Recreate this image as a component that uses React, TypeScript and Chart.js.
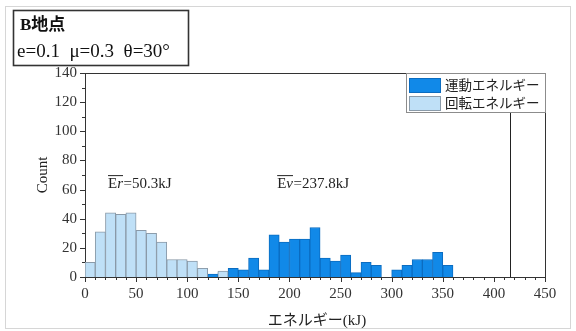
import { useEffect, useRef } from "react";
import { Chart, registerables } from "chart.js";

Chart.register(...registerables);

// Histogram bins are 10 kJ wide; each list holds the left edge of a bin and its count
const BIN_WIDTH = 10;
const rotationalBinStarts = [0, 10, 20, 30, 40, 50, 60, 70, 80, 90, 100, 110, 120, 130];
const rotationalCounts = [10, 31, 44, 43, 44, 32, 30, 24, 12, 12, 11, 6, 0, 4];
const kineticBinStarts = [
  120, 130, 140, 150, 160, 170, 180, 190, 200, 210, 220, 230, 240, 250, 260, 270, 280, 290, 300,
  310, 320, 330, 340, 350, 360,
];
const kineticCounts = [
  2, 3, 6, 5, 13, 5, 29, 24, 26, 26, 34, 13, 11, 15, 3, 10, 8, 0, 5, 8, 12, 12, 17, 8, 0,
];

const kineticLabel = "運動エネルギー";
const rotationalLabel = "回転エネルギー";
const meanRotational = 50.3;
const meanKinetic = 237.8;
const thresholdEnergy = 416;

const xTickValues = [0, 50, 100, 150, 200, 250, 300, 350, 400, 450];
const yTickValues = [0, 20, 40, 60, 80, 100, 120, 140];

const siteTitle = "B地点";
const paramText = "e=0.1  μ=0.3  θ=30°";
const xAxisTitle = "エネルギー(kJ)";
const yAxisTitle = "Count";

const SERIF = "'Liberation Serif', 'Times New Roman', 'Noto Sans CJK JP', serif";
const AXIS_COLOR = "#333333";
const KINETIC_FILL = "#1189e8";
const KINETIC_EDGE = "#0b6cc0";
const ROT_FILL = "#bfe0f7";
const ROT_EDGE = "#8a9aa8";

const toPoints = (starts: number[], counts: number[]) =>
  starts.map((s, i) => ({ x: s + BIN_WIDTH / 2, y: counts[i] }));

function drawMeanLabel(ctx: CanvasRenderingContext2D, x: number, y: number, sym: string, value: number) {
  ctx.fillStyle = "#222";
  ctx.textAlign = "left";
  ctx.textBaseline = "alphabetic";
  ctx.font = `15px ${SERIF}`;
  ctx.fillText("E", x, y);
  const wE = ctx.measureText("E").width;
  ctx.font = `italic 15px ${SERIF}`;
  ctx.fillText(sym, x + wE, y);
  const wS = ctx.measureText(sym).width;
  ctx.font = `15px ${SERIF}`;
  ctx.fillText(`=${value.toFixed(1)}kJ`, x + wE + wS + 0.5, y);
  ctx.strokeStyle = "#222";
  ctx.lineWidth = 1;
  ctx.beginPath();
  ctx.moveTo(x, y - 12.5);
  ctx.lineTo(x + wE + wS, y - 12.5);
  ctx.stroke();
}

const decorPlugin = {
  id: "decor",
  beforeDraw(chart: any) {
    const { ctx, width, height } = chart;
    ctx.save();
    ctx.fillStyle = "#ffffff";
    ctx.fillRect(0, 0, width, height);
    ctx.strokeStyle = "#d6d6d6";
    ctx.lineWidth = 1;
    ctx.strokeRect(5.5, 6.5, width - 11, height - 9);
    ctx.restore();
  },
  afterDraw(chart: any) {
    const { ctx, chartArea } = chart;
    const xs = chart.scales.x;
    const ys = chart.scales.y;
    const { left, right, top, bottom } = chartArea;
    ctx.save();

    // plot frame
    ctx.strokeStyle = AXIS_COLOR;
    ctx.lineWidth = 1;
    ctx.beginPath();
    ctx.moveTo(left, top + 0.5);
    ctx.lineTo(right + 0.5, top + 0.5);
    ctx.lineTo(right + 0.5, bottom);
    ctx.stroke();

    // tick marks: major every 50 kJ / 20 counts, minor every 10
    ctx.beginPath();
    for (let v = xs.min; v <= xs.max; v += 10) {
      const px = Math.round(xs.getPixelForValue(v)) + 0.5;
      const len = v % 50 === 0 ? 5 : 3;
      ctx.moveTo(px, bottom);
      ctx.lineTo(px, bottom + len);
    }
    for (let v = ys.min; v <= ys.max; v += 10) {
      const py = Math.round(ys.getPixelForValue(v)) + 0.5;
      const len = v % 20 === 0 ? 5 : 3;
      ctx.moveTo(left, py);
      ctx.lineTo(left - len, py);
    }
    ctx.stroke();

    // threshold line
    const tx = Math.round(xs.getPixelForValue(thresholdEnergy)) + 0.5;
    ctx.strokeStyle = "#222";
    ctx.beginPath();
    ctx.moveTo(tx, top);
    ctx.lineTo(tx, bottom);
    ctx.stroke();

    // legend
    const lx = 406;
    const ly = top;
    const lw = right - lx;
    const lh = 39;
    ctx.fillStyle = "#ffffff";
    ctx.fillRect(lx, ly, lw, lh);
    ctx.strokeStyle = "#8c8c8c";
    ctx.strokeRect(lx + 0.5, ly + 0.5, lw, lh);
    chart.data.datasets.forEach((ds: any, i: number) => {
      const sy = ly + 5 + i * 18;
      ctx.fillStyle = ds.backgroundColor;
      ctx.fillRect(lx + 3, sy, 32, 15);
      ctx.strokeStyle = ds.borderColor;
      ctx.strokeRect(lx + 3.5, sy + 0.5, 31, 14);
      ctx.fillStyle = "#222";
      ctx.font = `13.5px ${SERIF}`;
      ctx.textAlign = "left";
      ctx.textBaseline = "middle";
      ctx.fillText(ds.label, lx + 39, sy + 8);
    });

    // mean energy labels
    drawMeanLabel(ctx, xs.getPixelForValue(22.5), ys.getPixelForValue(61), "r", meanRotational);
    drawMeanLabel(ctx, xs.getPixelForValue(188), ys.getPixelForValue(61), "v", meanKinetic);

    // axis titles
    ctx.fillStyle = "#222";
    ctx.font = `15px ${SERIF}`;
    ctx.textAlign = "center";
    ctx.textBaseline = "middle";
    ctx.fillText(xAxisTitle, 317, 321);
    ctx.save();
    ctx.translate(43, 175);
    ctx.rotate(-Math.PI / 2);
    ctx.fillText(yAxisTitle, 0, 0);
    ctx.restore();

    // condition box
    ctx.strokeStyle = "#333";
    ctx.lineWidth = 1.6;
    ctx.strokeRect(13.5, 10.5, 175, 55);
    ctx.fillStyle = "#111";
    ctx.textAlign = "left";
    ctx.textBaseline = "alphabetic";
    ctx.font = `bold 17px ${SERIF}`;
    ctx.fillText(siteTitle, 20, 30);
    ctx.font = `19px ${SERIF}`;
    ctx.fillText(paramText, 17, 57);

    ctx.restore();
  },
};

export default function App() {
  const canvasRef = useRef<HTMLCanvasElement>(null);

  useEffect(() => {
    const canvas = canvasRef.current;
    if (!canvas) return;
    const chart = new Chart(canvas, {
      type: "bar",
      data: {
        datasets: [
          {
            label: kineticLabel,
            data: toPoints(kineticBinStarts, kineticCounts),
            backgroundColor: KINETIC_FILL,
            borderColor: KINETIC_EDGE,
            borderWidth: 1,
            order: 1,
          },
          {
            label: rotationalLabel,
            data: toPoints(rotationalBinStarts, rotationalCounts),
            backgroundColor: ROT_FILL,
            borderColor: ROT_EDGE,
            borderWidth: 1,
            order: 0,
          },
        ],
      },
      plugins: [decorPlugin],
      options: {
        animation: false,
        responsive: false,
        devicePixelRatio: 1,
        grouped: false,
        categoryPercentage: 1,
        barPercentage: 1,
        layout: { padding: { left: 0, top: 73, right: 31, bottom: 0 } },
        plugins: {
          legend: { display: false },
          tooltip: { enabled: false },
          title: { display: false },
        },
        scales: {
          x: {
            type: "linear",
            min: 0,
            max: 450,
            offset: false,
            afterFit: (s: any) => {
              s.height = 54;
            },
            afterBuildTicks: (s: any) => {
              s.ticks = xTickValues.map((v) => ({ value: v }));
            },
            grid: { display: false, drawTicks: false, offset: false },
            border: { display: true, color: AXIS_COLOR, width: 1 },
            ticks: {
              autoSkip: false,
              maxRotation: 0,
              padding: 8,
              color: "#333",
              font: { family: SERIF, size: 15 },
              callback: (v: any) => String(v),
            },
          },
          y: {
            type: "linear",
            min: 0,
            max: 140,
            afterFit: (s: any) => {
              s.width = 85;
            },
            afterBuildTicks: (s: any) => {
              s.ticks = yTickValues.map((v) => ({ value: v }));
            },
            grid: { display: false, drawTicks: false },
            border: { display: true, color: AXIS_COLOR, width: 1 },
            ticks: {
              padding: 8,
              color: "#333",
              font: { family: SERIF, size: 15 },
              callback: (v: any) => String(v),
            },
          },
        },
      } as any,
    });
    return () => chart.destroy();
  }, []);

  return (
    <div style={{ position: "fixed", left: 0, top: 0, width: 576, height: 331, background: "#fff" }}>
      <canvas ref={canvasRef} width={576} height={331} style={{ display: "block", width: 576, height: 331 }} />
    </div>
  );
}
